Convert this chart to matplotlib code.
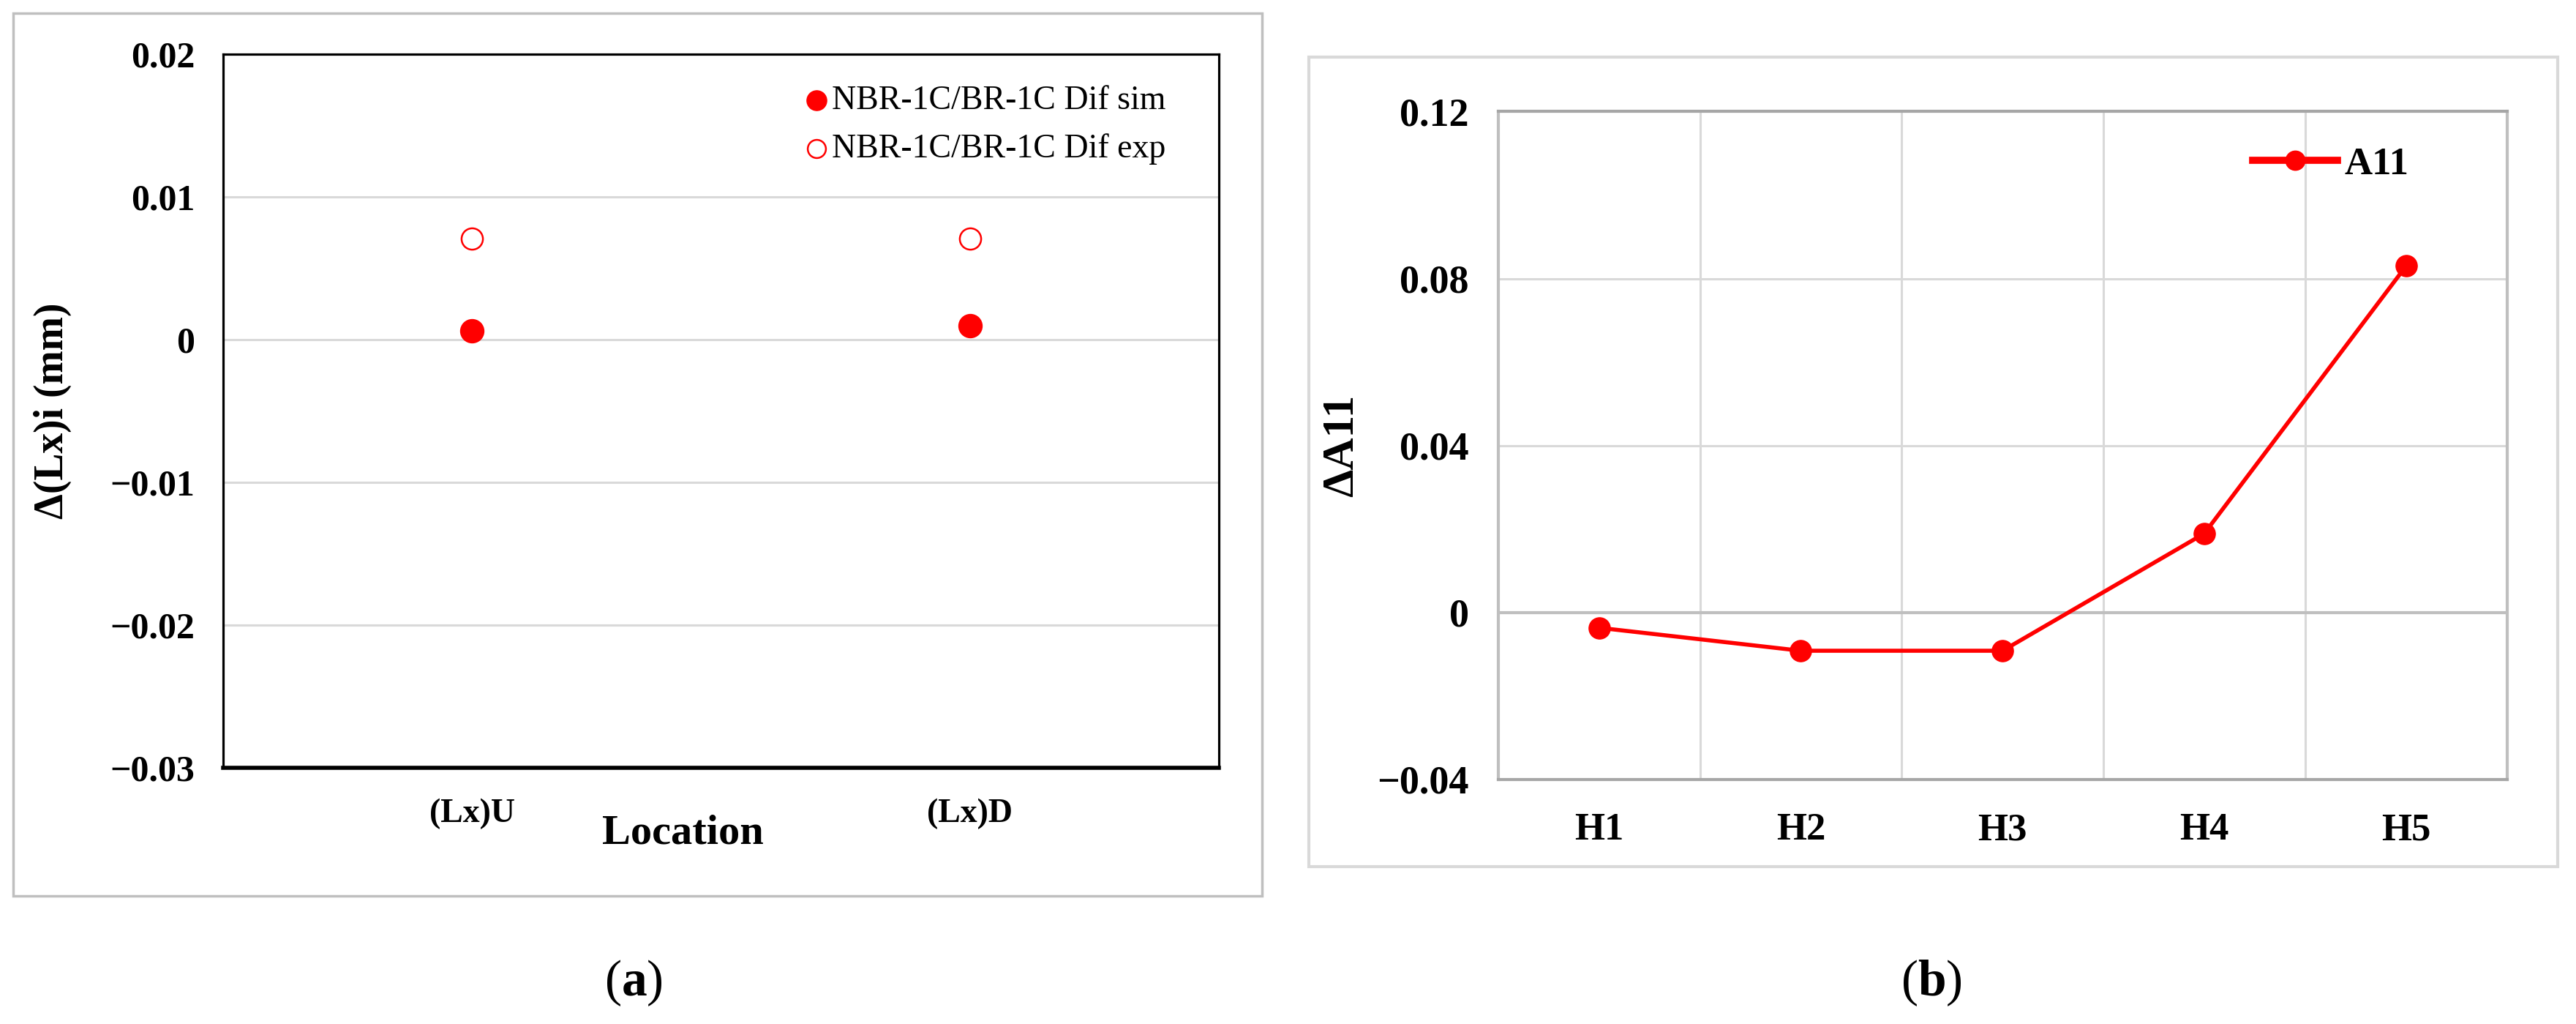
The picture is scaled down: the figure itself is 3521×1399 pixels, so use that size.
import matplotlib
matplotlib.use("Agg")
import matplotlib.pyplot as plt
from matplotlib.patches import Rectangle
from matplotlib.lines import Line2D

plt.rcParams['font.family'] = ['Liberation Serif', 'DejaVu Serif']
plt.rcParams['mathtext.fontset'] = 'custom'
plt.rcParams['mathtext.rm'] = 'Liberation Serif'
plt.rcParams['mathtext.bf'] = 'Liberation Serif:bold'

# panel (a)
locations = ['(Lx)U', '(Lx)D']
dif_sim = [0.0006, 0.00098]
dif_exp = [0.0071, 0.0071]
a_ticks = [0.02, 0.01, 0, -0.01, -0.02, -0.03]
a_ticklabels = ['0.02', '0.01', '0', '\u22120.01', '\u22120.02', '\u22120.03']

# panel (b)
positions = ['H1', 'H2', 'H3', 'H4', 'H5']
a11 = [-0.0037, -0.0092, -0.0092, 0.0189, 0.0830]
b_ticks = [0.12, 0.08, 0.04, 0, -0.04]
b_ticklabels = ['0.12', '0.08', '0.04', '0', '\u22120.04']

fig = plt.figure(figsize=(35.21, 13.99), dpi=100)

# outer frames
fig.patches.append(Rectangle((0.005, 0.125), 0.485, 0.862, transform=fig.transFigure,
                             fill=False, edgecolor='#bfbfbf', linewidth=2.5))
fig.patches.append(Rectangle((0.508, 0.154), 0.485, 0.79, transform=fig.transFigure,
                             fill=False, edgecolor='#d9d9d9', linewidth=3))

# ---- (a)
ax = fig.add_axes([0.0867, 0.250, 0.3865, 0.697])
xa = [1, 2]
ax.scatter(xa, dif_sim, s=23 ** 2, color='red', zorder=3, label='NBR-1C/BR-1C Dif sim')
ax.scatter(xa, dif_exp, s=21 ** 2, facecolor='white', edgecolor='red', linewidth=1.8,
           zorder=3, label='NBR-1C/BR-1C Dif exp')
ax.set_xlim(0.5, 2.5)
ax.set_ylim(-0.03, 0.02)
ax.set_yticks(a_ticks)
ax.set_yticklabels(a_ticklabels, fontsize=36, fontweight='bold')
ax.set_xticks(xa)
ax.set_xticklabels(locations, fontsize=33, fontweight='bold')
ax.tick_params(axis='both', length=0)
ax.tick_params(axis='y', pad=28)
ax.tick_params(axis='x', pad=30)
ax.yaxis.grid(True, color='#d9d9d9', linewidth=2.2)
ax.set_axisbelow(True)
for s in ['top', 'left', 'right']:
    ax.spines[s].set_linewidth(2.3)
    ax.spines[s].set_color('black')
ax.spines['bottom'].set_linewidth(4)
ax.set_ylabel('\u0394(Lx)i (mm)', fontsize=40, fontweight='bold')
ax.yaxis.set_label_coords(-0.152, 0.5)
fig.text(0.265, 0.186, 'Location', fontsize=42, fontweight='bold', ha='center', va='center')
ax.legend(loc='upper right', bbox_to_anchor=(0.96, 0.975), frameon=False, fontsize=33,
          handletextpad=0.0, borderaxespad=0.0, labelspacing=0.5, markerscale=0.85,
          handlelength=0.9)

# ---- (b)
bx = fig.add_axes([0.5816, 0.239, 0.3916, 0.652])
xb = list(range(1, len(positions) + 1))
bx.plot(xb, a11, color='red', linewidth=4, marker='o', markersize=21, label='A11', zorder=3)
bx.set_xlim(0.5, len(positions) + 0.5)
bx.set_ylim(-0.04, 0.12)
bx.set_yticks(b_ticks)
bx.set_yticklabels(b_ticklabels, fontsize=39, fontweight='bold')
bx.set_xticks(xb)
bx.set_xticklabels(positions, fontsize=38, fontweight='bold')
bx.set_xticks([x + 0.5 for x in xb[:-1]], minor=True)
bx.tick_params(axis='both', which='both', length=0)
bx.tick_params(axis='y', pad=29)
bx.tick_params(axis='x', pad=33)
bx.yaxis.grid(True, color='#d9d9d9', linewidth=2.2)
bx.xaxis.grid(True, which='minor', color='#d9d9d9', linewidth=2.2)
bx.set_axisbelow(True)
bx.axhline(0, color='#bfbfbf', linewidth=3, zorder=1)
for s in ['top', 'left', 'right', 'bottom']:
    bx.spines[s].set_color('#bfbfbf')
    bx.spines[s].set_linewidth(3)
bx.spines['top'].set_color('#a6a6a6')
bx.spines['bottom'].set_color('#a6a6a6')
bx.set_ylabel('\u0394A11', fontsize=44, fontweight='bold')
bx.yaxis.set_label_coords(-0.135, 0.5)
bx.legend(handles=[Line2D([0], [0], color='red', linewidth=7, marker='o', markersize=19)],
          labels=['A11'], loc='upper right', bbox_to_anchor=(0.918, 0.97), frameon=False,
          prop={'weight': 'bold', 'size': 38}, handlelength=2.2, handletextpad=0.17,
          borderaxespad=0.0)

fig.text(0.246, 0.040, r'($\mathbf{a}$)', fontsize=50, ha='center', va='center')
fig.text(0.7497, 0.040, r'($\mathbf{b}$)', fontsize=50, ha='center', va='center')

fig.savefig('out.png', dpi=100, facecolor='white')
